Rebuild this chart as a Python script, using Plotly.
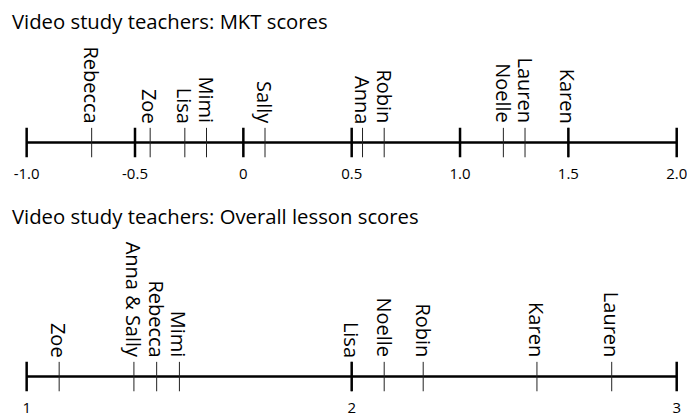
import plotly.graph_objects as go

# ---- data ----
mkt_names = ["Rebecca", "Zoe", "Lisa", "Mimi", "Sally", "Anna", "Robin", "Noelle", "Lauren", "Karen"]
mkt_scores = [-0.70, -0.43, -0.27, -0.17, 0.10, 0.55, 0.65, 1.20, 1.30, 1.50]
mkt_ticks = [-1.0, -0.5, 0.0, 0.5, 1.0, 1.5, 2.0]
mkt_tick_labels = ["-1.0", "-0.5", "0", "0.5", "1.0", "1.5", "2.0"]

lesson_names = ["Zoe", "Anna & Sally", "Rebecca", "Mimi", "Lisa", "Noelle", "Robin", "Karen", "Lauren"]
lesson_scores = [1.10, 1.33, 1.40, 1.47, 2.00, 2.10, 2.22, 2.57, 2.80]
lesson_ticks = [1, 2, 3]
lesson_tick_labels = ["1", "2", "3"]

titles = ["Video study teachers: MKT scores", "Video study teachers: Overall lesson scores"]

# ---- layout helpers ----
W, H = 687, 417
FONT = "Open Sans"


def py(px):
    return 1 - px / H


fig = go.Figure()

panels = [
    dict(names=mkt_names, scores=mkt_scores, ticks=mkt_ticks, labels=mkt_tick_labels,
         xa="x", ya="y", line_px=145, x0px=26.7, x1px=677.7, title_px=21.5),
    dict(names=lesson_names, scores=lesson_scores, ticks=lesson_ticks, labels=lesson_tick_labels,
         xa="x2", ya="y2", line_px=383, x0px=26.7, x1px=677.7, title_px=219.5),
]

annotations = []
for i, p in enumerate(panels):
    t0, t1 = p["ticks"][0], p["ticks"][-1]
    # axis line
    fig.add_trace(go.Scatter(x=[t0, t1], y=[0, 0], mode="lines",
                             line=dict(color="black", width=2.5),
                             xaxis=p["xa"], yaxis=p["ya"], hoverinfo="skip", showlegend=False))
    # minor ticks at each teacher
    fig.add_trace(go.Scatter(x=p["scores"], y=[0] * len(p["scores"]), mode="markers",
                             marker=dict(symbol="line-ns", size=21, color="black",
                                         line=dict(color="#222", width=1)),
                             xaxis=p["xa"], yaxis=p["ya"], hoverinfo="skip", showlegend=False))
    # major ticks
    fig.add_trace(go.Scatter(x=p["ticks"], y=[0] * len(p["ticks"]), mode="markers",
                             marker=dict(symbol="line-ns", size=21, color="black",
                                         line=dict(color="black", width=2.5)),
                             xaxis=p["xa"], yaxis=p["ya"], hoverinfo="skip", showlegend=False))
    # rotated teacher names
    for name, s in zip(p["names"], p["scores"]):
        annotations.append(dict(x=s, y=0, xref=p["xa"], yref=p["ya"], text=name,
                                showarrow=False, textangle=90, xanchor="center", yanchor="bottom",
                                yshift=18, borderpad=0,
                                font=dict(family=FONT, size=20, color="black")))
    annotations.append(dict(x=10 / W, y=py(p["title_px"]), xref="paper", yref="paper",
                            text=titles[i], showarrow=False, xanchor="left", yanchor="middle",
                            font=dict(family=FONT, size=20.3, color="black")))

# axis ranges mapped so ticks land at the same pixel positions
layout_axes = {}
for i, p in enumerate(panels):
    t0, t1 = p["ticks"][0], p["ticks"][-1]
    scale = (p["x1px"] - p["x0px"]) / (t1 - t0)
    rng = [t0 - p["x0px"] / scale, t0 + (W - p["x0px"]) / scale]
    suffix = "" if i == 0 else "2"
    layout_axes["xaxis" + suffix] = dict(
        range=rng, domain=[0, 1], anchor="y" + suffix,
        tickvals=p["ticks"], ticktext=p["labels"],
        showgrid=False, zeroline=False, showline=False, ticks="",
        ticklabeloverflow="allow",
        tickfont=dict(family=FONT, size=15, color="black"),
    )
    layout_axes["yaxis" + suffix] = dict(
        range=[-1, 1], domain=[py(p["line_px"] + 21), py(p["line_px"] - 21)],
        anchor="x" + suffix, visible=False, fixedrange=True,
    )

fig.update_layout(
    width=W, height=H,
    margin=dict(l=0, r=0, t=0, b=0),
    paper_bgcolor="white", plot_bgcolor="white",
    annotations=annotations,
    showlegend=False,
    **layout_axes,
)

fig.write_html("out.html", config={"displayModeBar": False},
               post_script="document.body.style.margin='0';")
